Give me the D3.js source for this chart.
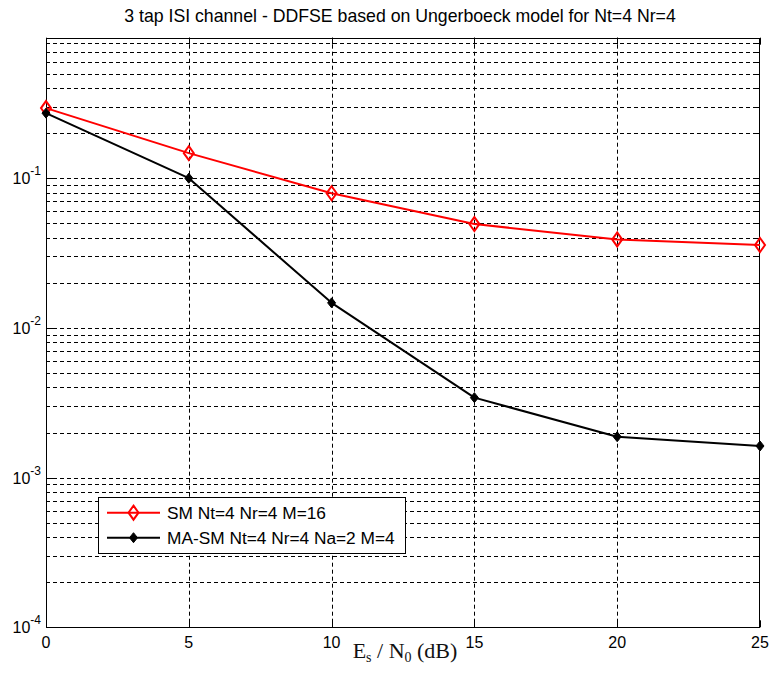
<!DOCTYPE html>
<html>
<head>
<meta charset="utf-8">
<script src="https://cdn.jsdelivr.net/npm/d3@7"></script>
<style>
  html, body { margin: 0; padding: 0; background: #fff; }
  svg { display: block; }
  text { fill: #000; }
</style>
</head>
<body>
<svg id="chart" width="770" height="684"></svg>
<script>
// SNR points (dB) and symbol error rates for each scheme
const snrDb = [0, 5, 10, 15, 20, 25];
const serSM = [0.294, 0.147, 0.0793, 0.0494, 0.039, 0.0358];
const serMASM = [0.272, 0.100, 0.0147, 0.00342, 0.001875, 0.001626];
const seriesNames = ["SM Nt=4 Nr=4 M=16", "MA-SM Nt=4 Nr=4 Na=2 M=4"];
const seriesColors = ["#ff0000", "#000000"];
const xTickValues = [0, 5, 10, 15, 20, 25];
const yDecadeExponents = [-4, -3, -2, -1];
const titleText = "3 tap ISI channel - DDFSE based on Ungerboeck model for Nt=4 Nr=4";

const sans = "'Liberation Sans', Arial, sans-serif";
const serif = "'Liberation Serif', 'Times New Roman', serif";

const svg = d3.select("#chart");
const plot = { left: 46, right: 760, top: 37.7, bottom: 627.3 };

const x = d3.scaleLinear().domain([0, 25]).range([plot.left, plot.right]);
const y = d3.scaleLog().domain([1e-4, 0.868]).range([plot.bottom, plot.top]);

// Grid: every minor/major log value plus vertical lines at the x ticks
const gridValues = [];
yDecadeExponents.forEach(e => {
  for (let m = 1; m <= 9; m++) {
    const v = m * Math.pow(10, e);
    if (v > 1e-4 && v < y.domain()[1]) gridValues.push({ v, major: m === 1 });
  }
});

const grid = svg.append("g").attr("stroke", "#000").attr("stroke-width", 1)
  .attr("stroke-dasharray", "4,3").attr("fill", "none");
grid.selectAll("line.h").data(gridValues).join("line")
  .attr("class", "h")
  .attr("x1", plot.left).attr("x2", plot.right)
  .attr("y1", d => Math.round(y(d.v)) + 0.5).attr("y2", d => Math.round(y(d.v)) + 0.5);
grid.selectAll("line.v").data(xTickValues.filter(t => t > 0 && t < 25)).join("line")
  .attr("class", "v")
  .attr("x1", d => Math.round(x(d)) + 0.5).attr("x2", d => Math.round(x(d)) + 0.5)
  .attr("y1", plot.top).attr("y2", plot.bottom);

// Solid tick marks inside the frame on all four sides
const ticks = svg.append("g").attr("stroke", "#000").attr("stroke-width", 1);
gridValues.forEach(d => {
  const yy = Math.round(y(d.v)) + 0.5;
  const len = d.major ? 7 : 4;
  ticks.append("line").attr("x1", plot.left).attr("x2", plot.left + len).attr("y1", yy).attr("y2", yy);
  ticks.append("line").attr("x1", plot.right - len).attr("x2", plot.right).attr("y1", yy).attr("y2", yy);
});
xTickValues.forEach(t => {
  const xx = Math.round(x(t)) + 0.5;
  ticks.append("line").attr("x1", xx).attr("x2", xx).attr("y1", plot.bottom).attr("y2", plot.bottom - 7);
  ticks.append("line").attr("x1", xx).attr("x2", xx).attr("y1", plot.top).attr("y2", plot.top + 7);
});

// Frame
svg.append("rect")
  .attr("x", plot.left + 0.5).attr("y", Math.round(plot.top) + 0.5)
  .attr("width", plot.right - plot.left - 1).attr("height", Math.round(plot.bottom) - Math.round(plot.top))
  .attr("fill", "none").attr("stroke", "#000").attr("stroke-width", 1);

// X tick labels
svg.append("g").selectAll("text").data(xTickValues).join("text")
  .attr("x", d => x(d)).attr("y", 648)
  .attr("text-anchor", "middle").style("font-family", sans).attr("font-size", 16)
  .text(d => d);

// Y tick labels: 10 with superscript exponent
const yLabels = svg.append("g");
yDecadeExponents.forEach(e => {
  const yy = y(Math.pow(10, e));
  const t = yLabels.append("text")
    .attr("x", 41).attr("y", yy + 6)
    .attr("text-anchor", "end").style("font-family", sans).attr("font-size", 16);
  t.append("tspan").text("10");
  t.append("tspan").attr("dy", -9).attr("font-size", 12).text(String(e));
});

// Title
svg.append("text")
  .attr("x", 400).attr("y", 22)
  .attr("text-anchor", "middle").style("font-family", sans).attr("font-size", 17.7)
  .text(titleText);

// X axis label in serif with subscripts
const xl = svg.append("text")
  .attr("x", 405).attr("y", 658)
  .attr("text-anchor", "middle")
  .style("font-family", serif)
  .attr("font-size", 22).style("fill", "#111");
xl.append("tspan").text("E");
xl.append("tspan").attr("dy", 4).attr("font-size", 14).text("s");
xl.append("tspan").attr("dy", -4).text(" / N");
xl.append("tspan").attr("dy", 4).attr("font-size", 14).text("0");
xl.append("tspan").attr("dy", -4).text(" (dB)");

// Series lines and markers
const line = d3.line().x(d => x(d[0])).y(d => y(d[1]));
const seriesData = [serSM, serMASM].map(vals => snrDb.map((s, i) => [s, vals[i]]));

function drawMarker(g, kind, cx, cy, color) {
  if (kind === 0) {
    g.append("path")
      .attr("d", `M${cx},${cy - 7}L${cx + 5},${cy}L${cx},${cy + 7}L${cx - 5},${cy}Z`)
      .attr("fill", "none").attr("stroke", color).attr("stroke-width", 2);
  } else {
    g.append("path")
      .attr("d", `M${cx},${cy - 5}L${cx + 4},${cy}L${cx},${cy + 5}L${cx - 4},${cy}Z`)
      .attr("fill", color).attr("stroke", color).attr("stroke-width", 1);
  }
}

seriesData.forEach((pts, k) => {
  const g = svg.append("g");
  g.append("path").datum(pts)
    .attr("d", line).attr("fill", "none")
    .attr("stroke", seriesColors[k]).attr("stroke-width", 2)
    .attr("stroke-linejoin", "round");
  pts.forEach(p => drawMarker(g, k, x(p[0]), y(p[1]), seriesColors[k]));
});

// Legend
const legend = svg.append("g");
legend.append("rect")
  .attr("x", 98.5).attr("y", 497.5).attr("width", 307).attr("height", 56)
  .attr("fill", "#fff").attr("stroke", "#000").attr("stroke-width", 1);
seriesNames.forEach((name, k) => {
  const cy = 512.7 + k * 25;
  legend.append("line")
    .attr("x1", 107).attr("x2", 160).attr("y1", cy).attr("y2", cy)
    .attr("stroke", seriesColors[k]).attr("stroke-width", 2);
  drawMarker(legend, k, 133.5, cy, seriesColors[k]);
  legend.append("text")
    .attr("x", 167).attr("y", cy + 6)
    .style("font-family", sans).attr("font-size", 17.3)
    .text(name);
});
</script>
</body>
</html>
